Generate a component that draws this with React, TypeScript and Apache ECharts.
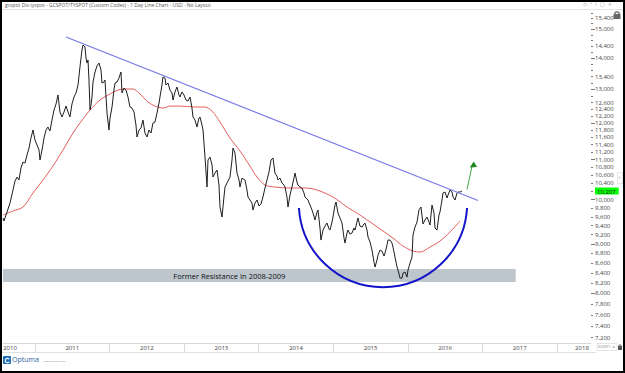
import React, { useEffect, useRef } from 'react';
import * as echarts from 'echarts';

const chartTitle = 'gcspot Div tyspot - GCSPOT/TYSPOT (Custom Codes) - 1 Day Line Chart - USD - No Layout';

// decimal years (x) and GC/TY ratio values (y)
const priceYears = [
  2010.571,2010.584,2010.625,2010.665,2010.705,2010.732,2010.759,2010.785,2010.812,2010.839,
  2010.866,2010.893,2010.920,2010.946,2010.973,2011.000,2011.027,2011.054,2011.067,2011.094,
  2011.121,2011.148,2011.174,2011.201,2011.228,2011.255,2011.282,2011.308,2011.335,2011.362,
  2011.389,2011.416,2011.443,2011.469,2011.496,2011.523,2011.550,2011.577,2011.603,2011.630,
  2011.644,2011.671,2011.684,2011.697,2011.711,2011.724,2011.738,2011.751,2011.764,2011.778,
  2011.805,2011.831,2011.858,2011.885,2011.898,2011.925,2011.939,2011.966,2011.992,2012.006,
  2012.033,2012.059,2012.073,2012.100,2012.126,2012.153,2012.167,2012.193,2012.220,2012.247,
  2012.274,2012.301,2012.328,2012.354,2012.368,2012.395,2012.421,2012.448,2012.475,2012.502,
  2012.529,2012.556,2012.582,2012.609,2012.636,2012.663,2012.676,2012.703,2012.716,2012.743,
  2012.757,2012.784,2012.810,2012.837,2012.851,2012.877,2012.904,2012.931,2012.944,2012.971,
  2012.998,2013.025,2013.052,2013.079,2013.105,2013.119,2013.146,2013.172,2013.199,2013.213,
  2013.239,2013.253,2013.280,2013.307,2013.320,2013.347,2013.374,2013.387,2013.414,2013.441,
  2013.467,2013.481,2013.508,2013.534,2013.548,2013.575,2013.615,2013.642,2013.655,2013.682,
  2013.709,2013.736,2013.749,2013.776,2013.816,2013.843,2013.856,2013.883,2013.910,2013.923,
  2013.950,2013.977,2014.004,2014.031,2014.057,2014.084,2014.111,2014.138,2014.165,2014.192,
  2014.218,2014.245,2014.259,2014.285,2014.312,2014.339,2014.353,2014.379,2014.393,2014.420,
  2014.446,2014.473,2014.487,2014.513,2014.527,2014.554,2014.580,2014.607,2014.621,2014.648,
  2014.661,2014.688,2014.715,2014.741,2014.755,2014.782,2014.795,2014.822,2014.835,2014.862,
  2014.889,2014.916,2014.943,2014.956,2014.983,2014.996,2015.023,2015.037,2015.063,2015.090,
  2015.117,2015.144,2015.157,2015.184,2015.197,2015.224,2015.251,2015.278,2015.291,2015.318,
  2015.331,2015.358,2015.385,2015.412,2015.425,2015.452,2015.466,2015.493,2015.519,2015.546,
  2015.560,2015.586,2015.600,2015.627,2015.653,2015.680,2015.694,2015.720,2015.734,2015.761,
  2015.787,2015.801,2015.828,2015.855,2015.868,2015.895,2015.922,2015.935,2015.962,2015.989,
  2016.002,2016.029,2016.056,2016.069,2016.096,2016.123,2016.149,2016.176,2016.203,2016.230,
  2016.257,2016.283,2016.297,2016.324,2016.351,2016.364,2016.391,2016.418,2016.431,2016.458,
  2016.471,2016.498,2016.525,2016.539,2016.565,2016.592,2016.606,2016.633,2016.659,2016.673,
  2016.700,2016.726,
];

const priceValues = [
  9571,9503,9709,9919,10231,10452,10552,10477,10781,10936,
  10910,11120,11307,11579,11802,11524,11388,11253,10988,11253,
  11579,11802,11886,11774,12086,12377,12555,12828,12318,12173,
  12318,12495,12318,12173,12555,12767,12889,13136,13711,14278,
  14449,14380,14009,13843,13942,13293,12377,12525,12767,13230,
  13550,13745,13843,13614,13199,13230,13293,12289,11802,12144,
  12466,12981,13199,13230,13357,13550,12889,13043,12981,12767,
  12466,12436,12318,11943,11607,11802,11858,12086,11718,11607,
  11802,11718,12000,12029,12289,12585,12767,13136,13389,13357,
  13136,13199,12981,12889,12675,12920,13074,12828,12767,12920,
  12828,12675,12645,12767,12436,12173,12086,11886,12144,12173,
  11943,11802,11067,10304,10988,11067,10858,10552,10653,10730,
  10353,9825,9594,10062,10304,10402,10552,10988,11307,11173,
  10653,10477,10304,10527,10477,10231,10062,9990,9919,9755,
  9919,9990,9849,9896,10062,10280,10477,10679,10988,11041,
  10653,10577,10477,10527,10402,10353,10304,10062,9825,10110,
  10304,10527,10653,10427,10353,10304,10280,10158,10062,10014,
  9990,9872,9755,9617,9526,9709,9755,9346,9082,9301,
  9390,9458,9323,9301,9481,9594,9872,9943,9686,9571,
  9458,9125,9018,9235,9301,9213,9235,9346,9301,9481,
  9571,9390,9368,9436,9458,9301,9147,9039,8868,8618,
  8517,8659,8763,8868,8847,8742,8805,8975,9082,9082,
  9018,8932,8721,8517,8456,8296,8296,8396,8416,8316,
  8456,8598,8721,9191,9368,9481,9755,9825,9436,9526,
  9594,9481,9413,9872,9686,9346,9301,9640,9709,9990,
  10158,10182,10038,10110,10231,10182,10062,9990,10158,10182,
  10182,10207,
];

const maYears = [
  2010.571,2010.705,2010.839,2010.973,2011.107,2011.241,2011.375,2011.510,2011.603,2011.738,
  2011.872,2012.006,2012.113,2012.207,2012.314,2012.408,2012.515,2012.609,2012.716,2012.810,
  2012.944,2013.146,2013.280,2013.374,2013.481,2013.615,2013.749,2013.883,2013.977,2014.084,
  2014.218,2014.420,2014.621,2014.782,2014.996,2015.184,2015.358,2015.533,2015.667,2015.801,
  2015.935,2016.069,2016.163,2016.297,2016.431,2016.565,2016.700,
];
const maValues = [
  9640,9732,9825,10158,10477,10832,11253,11718,12000,12377,
  12675,12858,12981,13012,13012,12858,12615,12495,12436,12495,
  12495,12466,12466,12347,12029,11579,11226,10832,10552,10353,
  10304,10280,10280,10231,10062,9825,9640,9436,9279,9125,
  8953,8847,8826,8932,9060,9257,9503,
];

const trendYears = [2011.416, 2016.941];
const trendValues = [14727, 9978];

const resistanceYears = [2010.571, 2017.446];
const resistanceValues = [8218, 8475];
const resistanceLabel = 'Former Resistance In 2008-2009';

const lastValue = 10207;

const yLabelValues = [
  7200, 7400, 7600, 7800, 8000, 8200, 8400, 8600, 8800, 9000, 9200, 9400, 9600, 9800,
  10000, 10400, 10600, 10800, 11000, 11200, 11400, 11600, 11800, 12000, 12200, 12400, 12600,
  13000, 13400, 14000, 14400, 15000, 15400,
];
const yMinorTicks = [
  7200, 7400, 7600, 7800, 8000, 8200, 8400, 8600, 8800, 9000, 9200, 9400, 9600, 9800,
  10000, 10200, 10400, 10600, 10800, 11000, 11200, 11400, 11600, 11800, 12000, 12200, 12400,
  12600, 12800, 13000, 13200, 13400, 13600, 13800, 14000, 14200, 14400, 14600, 14800, 15000,
  15200, 15400, 15600,
];
const yMajorTicks = [8000, 9000, 10000, 11000, 12000, 13000, 14000, 15000];

const yearDividers = [2011, 2012, 2013, 2014, 2015, 2016, 2017, 2018];
const yearLabelPositions = [2010.665, 2011.5, 2012.5, 2013.5, 2014.5, 2015.5, 2016.5, 2017.5, 2018.335];

const X_MIN = 2010.571;
const X_MAX = 2018.456;
const Y_MIN = 7108;
const Y_MAX = 15705;

const FONT = 'Open Sans, Noto Sans, sans-serif';

function fmt(v: number) {
  const r = Math.round(v);
  return String(r).replace(/\B(?=(\d{3})+(?!\d))/g, ',');
}

export default function App() {
  const ref = useRef<HTMLDivElement>(null);

  useEffect(() => {
    document.body.style.margin = '0';
    const chart = echarts.init(ref.current!, undefined, { renderer: 'svg' });

    const option: any = {
      animation: false,
      backgroundColor: '#ffffff',
      grid: { left: 3, right: 34, top: 10, bottom: 30 },
      xAxis: {
        type: 'value',
        min: X_MIN,
        max: X_MAX,
        axisLine: { show: true, lineStyle: { color: '#d9d9d9', width: 1 } },
        splitLine: { show: false },
        axisTick: { show: true, customValues: yearDividers, length: 10, lineStyle: { color: '#d9d9d9' } },
        axisLabel: {
          customValues: yearLabelPositions,
          formatter: (v: number) => String(Math.floor(v + 1e-6)),
          fontSize: 6,
          color: '#444',
          fontFamily: FONT,
          margin: 2,
        },
      },
      yAxis: [
        {
          type: 'log',
          logBase: 10,
          position: 'right',
          min: Y_MIN,
          max: Y_MAX,
          axisLine: { show: false },
          splitLine: { show: false },
          axisTick: { show: true, customValues: yMinorTicks, length: 2, lineStyle: { color: '#777' } },
          axisLabel: {
            customValues: [...yLabelValues, lastValue],
            margin: 4,
            fontSize: 6,
            color: '#444',
            fontFamily: FONT,
            formatter: (v: number) => {
              const r = Math.round(v);
              return r === lastValue ? `{hl|${fmt(r)}}` : fmt(r);
            },
            rich: {
              hl: {
                backgroundColor: '#00ff00',
                color: '#222',
                fontSize: 6,
                fontFamily: FONT,
                padding: [1, 3, 0, 2],
              },
            },
          },
        },
        {
          type: 'log',
          logBase: 10,
          position: 'right',
          min: Y_MIN,
          max: Y_MAX,
          axisLine: { show: false },
          splitLine: { show: false },
          axisTick: { show: true, customValues: yMajorTicks, length: 4, lineStyle: { color: '#777' } },
          axisLabel: { show: false },
        },
      ],
      series: [
        {
          name: 'GCSPOT/TYSPOT',
          type: 'line',
          data: priceYears.map((t, i) => [t, priceValues[i]]),
          showSymbol: false,
          symbol: 'none',
          lineStyle: { color: '#1e1e1e', width: 1 },
          z: 4,
          markArea: {
            silent: true,
            itemStyle: { color: '#bdc5cd', opacity: 1 },
            label: {
              show: true,
              position: 'inside',
              offset: [-30, 0],
              color: '#111',
              fontSize: 7.5,
              fontFamily: FONT,
            },
            data: [
              [
                { name: resistanceLabel, xAxis: resistanceYears[0], yAxis: resistanceValues[1] },
                { xAxis: resistanceYears[1], yAxis: resistanceValues[0] },
              ],
            ],
          },
        },
        {
          name: 'Moving Average',
          type: 'line',
          data: maYears.map((t, i) => [t, maValues[i]]),
          showSymbol: false,
          symbol: 'none',
          smooth: 0.3,
          lineStyle: { color: '#e35d5d', width: 1 },
          z: 3,
        },
        {
          name: 'Trend',
          type: 'line',
          data: trendYears.map((t, i) => [t, trendValues[i]]),
          showSymbol: false,
          symbol: 'none',
          lineStyle: { color: '#7878e8', width: 1.2 },
          z: 5,
        },
      ],
      graphic: [
        { type: 'rect', shape: { x: 1, y: 1, width: 623, height: 371 }, style: { fill: 'none', stroke: '#000', lineWidth: 2 }, z: 200 },
        { type: 'line', shape: { x1: 2, y1: 9.5, x2: 623, y2: 9.5 }, style: { stroke: '#e2e2e2', lineWidth: 1 }, z: 50 },
        { type: 'text', left: 5, top: 2, style: { text: chartTitle, fontSize: 5, fill: '#555', fontFamily: FONT }, z: 50 },
        { type: 'text', left: 583, top: 1, style: { text: '◇  ⁿ  ⁞  □  ×', fontSize: 5, fill: '#999', fontFamily: 'DejaVu Sans' }, z: 50 },
        // lock icon top right
        { type: 'arc', shape: { cx: 617, cy: 14, r: 2.2, startAngle: Math.PI, endAngle: 0 }, style: { stroke: '#666', lineWidth: 1.2, fill: 'none' }, z: 50 },
        { type: 'rect', shape: { x: 613.5, y: 14, width: 7, height: 5 }, style: { fill: '#666' }, z: 50 },
        // rounding bottom arc
        {
          type: 'arc',
          shape: { cx: 383, cy: 203, r: 84.2, startAngle: 0.06, endAngle: Math.PI - 0.06, clockwise: true },
          style: { stroke: '#1414c8', lineWidth: 2, fill: 'none' },
          z: 60,
        },
        // green arrow
        { type: 'line', shape: { x1: 467, y1: 189.5, x2: 472, y2: 166.5 }, style: { stroke: '#44a844', lineWidth: 1 }, z: 60 },
        { type: 'polygon', shape: { points: [[473.7, 161.5], [469.8, 167.6], [477, 167]] }, style: { fill: '#1d861d' }, z: 60 },
        // x axis band bottom line
        { type: 'line', shape: { x1: 2, y1: 352.5, x2: 596, y2: 352.5 }, style: { stroke: '#e0e0e0', lineWidth: 1 }, z: 50 },
        // bottom-right box
        { type: 'rect', shape: { x: 597, y: 343.5, width: 20, height: 7 }, style: { fill: '#fff', stroke: '#ccc', lineWidth: 0.5 }, z: 50 },
        { type: 'text', left: 598, top: 344.5, style: { text: '0.0371 .n', fontSize: 4, fill: '#777', fontFamily: FONT }, z: 51 },
        { type: 'rect', shape: { x: 618, y: 346, width: 4, height: 4 }, style: { fill: '#555' }, z: 50 },
        { type: 'arc', shape: { cx: 620, cy: 346, r: 1.3, startAngle: Math.PI, endAngle: 0 }, style: { stroke: '#555', lineWidth: 0.8, fill: 'none' }, z: 50 },
        // right side collapse tab
        { type: 'rect', shape: { x: 617.5, y: 172.5, width: 5, height: 11 }, style: { fill: '#fff', stroke: '#ccc', lineWidth: 0.5 }, z: 50 },
        { type: 'text', left: 618.5, top: 174, style: { text: '‹', fontSize: 6, fill: '#777', fontFamily: FONT }, z: 51 },
        // Optuma logo
        { type: 'rect', shape: { x: 3, y: 356, width: 8, height: 8, r: 1 }, style: { fill: '#1f6fb8' }, z: 50 },
        { type: 'arc', shape: { cx: 7.5, cy: 360.5, r: 2.2, startAngle: 0.6, endAngle: 2 * Math.PI - 0.6 }, style: { stroke: '#fff', lineWidth: 1.2, fill: 'none' }, z: 51 },
        { type: 'text', left: 12, top: 355.5, style: { text: 'Optuma', fontSize: 7, fill: '#1f5f9e', fontFamily: FONT }, z: 50 },
        { type: 'text', left: 44, top: 359, style: { text: 'www.optuma.com', fontSize: 2.5, fill: '#888', fontFamily: FONT }, z: 50 },
      ],
    };

    chart.setOption(option);
    return () => chart.dispose();
  }, []);

  return (
    <div
      ref={ref}
      style={{ position: 'fixed', left: 0, top: 0, width: 625, height: 373, background: '#fff' }}
    />
  );
}
